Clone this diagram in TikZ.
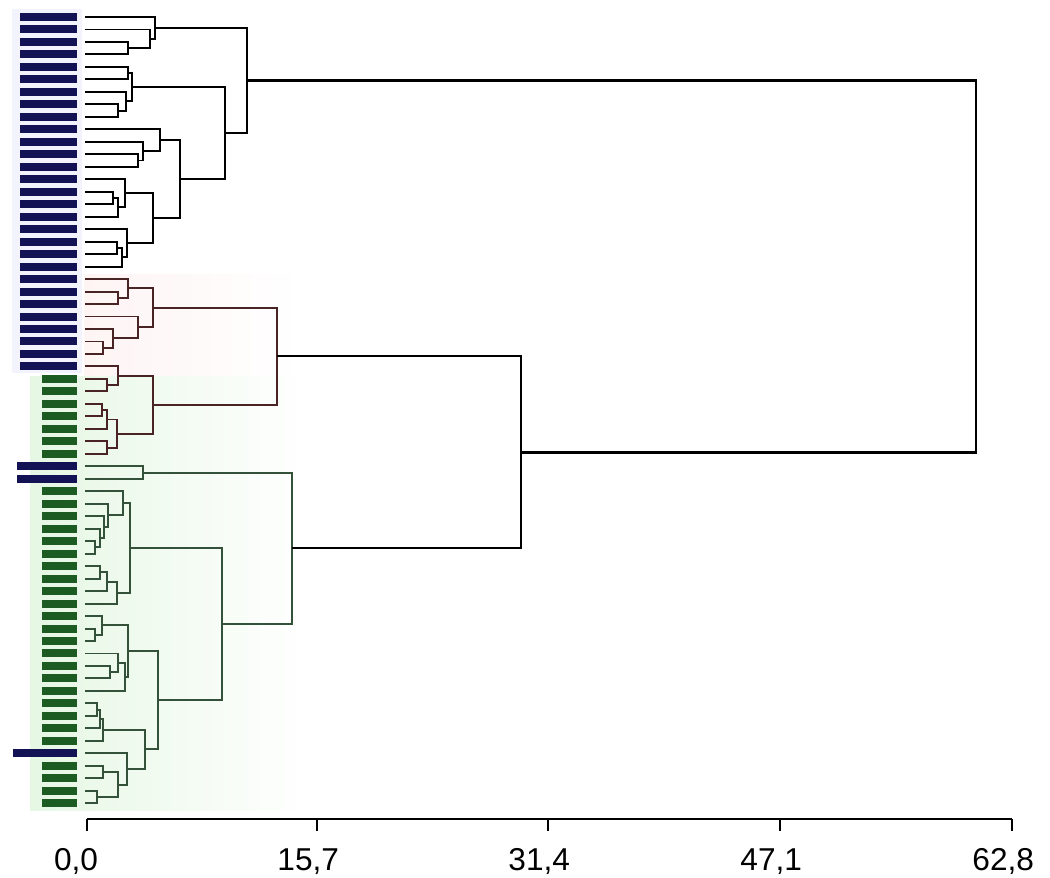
\documentclass[tikz,border=0pt]{standalone}
\usepackage{fontspec}
\setmainfont{Liberation Sans}
\definecolor{barblue}{RGB}{18,18,85}
\definecolor{bargreen}{RGB}{28,92,34}
\definecolor{linered}{RGB}{74,36,36}
\definecolor{linegreen}{RGB}{52,82,58}
\definecolor{tintblue}{RGB}{243,243,253}
\definecolor{tintred}{RGB}{254,244,244}
\definecolor{tintgreen}{RGB}{230,247,228}
% one merge of the tree: name, height, two children
\newcommand\clusterjoin[5][tb]{%
  \draw[treeline,#1] (#4) -- (#4 -| #3,0) -- coordinate (#2) (#5 -| #3,0) -- (#5);}
\begin{document}
\begin{tikzpicture}[x=0.02cm, y=-0.02cm,
  treeline/.style={line width=1.1pt},
  tb/.style={draw=black},
  tr/.style={draw=linered},
  tg/.style={draw=linegreen},
  axislabel/.style={font=\fontsize{18}{20}\selectfont, inner sep=0pt, anchor=base}]
\useasboundingbox (0,0) rectangle (1050,877);
% faint group shading
\fill[tintblue] (12,9) rectangle (82,373);
\fill[left color=tintred, right color=white] (84,274) rectangle (300,414);
\fill[left color=tintgreen, right color=white] (30,376) rectangle (310,810);
% leaves
\foreach \i in {1,...,64}
  \coordinate (l\i) at (85,{17+(\i-1)*12.48});
\foreach \i in {1,...,29}
  \fill[barblue] ([shift={(-65,-4)}]l\i) rectangle ([shift={(-8,4)}]l\i);
\foreach \i in {37,38}
  \fill[barblue] ([shift={(-68,-4)}]l\i) rectangle ([shift={(-8,4)}]l\i);
\fill[barblue] ([shift={(-72,-4)}]l60) rectangle ([shift={(-8,4)}]l60);
\foreach \i in {30,31,...,36,39,40,...,59,61,62,63,64}
  \fill[bargreen] ([shift={(-43,-4)}]l\i) rectangle ([shift={(-8,4)}]l\i);

% blue group
\clusterjoin{b34}{128}{l3}{l4}
\clusterjoin{b234}{150}{l2}{b34}
\clusterjoin{b1to4}{155}{l1}{b234}
\clusterjoin{b56}{128}{l5}{l6}
\clusterjoin{b89}{118}{l8}{l9}
\clusterjoin{b789}{126}{l7}{b89}
\clusterjoin{b5to9}{132}{b56}{b789}
\clusterjoin{b1213}{138}{l12}{l13}
\clusterjoin{b11to13}{143}{l11}{b1213}
\clusterjoin{b10to13}{160}{l10}{b11to13}
\clusterjoin{b1516}{113}{l15}{l16}
\clusterjoin{b15to17}{118}{b1516}{l17}
\clusterjoin{b14to17}{125}{l14}{b15to17}
\clusterjoin{b1920}{117}{l19}{l20}
\clusterjoin{b19to21}{122}{b1920}{l21}
\clusterjoin{b18to21}{127}{l18}{b19to21}
\clusterjoin{b14to21}{153}{b14to17}{b18to21}
\clusterjoin{b10to21}{180}{b10to13}{b14to21}
\clusterjoin{b5to21}{225}{b5to9}{b10to21}
\clusterjoin{cblue}{247}{b1to4}{b5to21}

% red group
\clusterjoin[tr]{r2324}{118}{l23}{l24}
\clusterjoin[tr]{r22to24}{128}{l22}{r2324}
\clusterjoin[tr]{r2728}{103}{l27}{l28}
\clusterjoin[tr]{r26to28}{113}{l26}{r2728}
\clusterjoin[tr]{r25to28}{138}{l25}{r26to28}
\clusterjoin[tr]{r22to28}{153}{r22to24}{r25to28}
\clusterjoin[tr]{r3031}{107}{l30}{l31}
\clusterjoin[tr]{r29to31}{118}{l29}{r3031}
\clusterjoin[tr]{r3233}{102}{l32}{l33}
\clusterjoin[tr]{r32to34}{107}{r3233}{l34}
\clusterjoin[tr]{r3536}{107}{l35}{l36}
\clusterjoin[tr]{r32to36}{117}{r32to34}{r3536}
\clusterjoin[tr]{r29to36}{153}{r29to31}{r32to36}
\clusterjoin[tr]{cred}{277}{r22to28}{r29to36}

% green group
\clusterjoin[tg]{g3738}{143}{l37}{l38}
\clusterjoin[tg]{g4344}{95}{l43}{l44}
\clusterjoin[tg]{g42to44}{100}{l42}{g4344}
\clusterjoin[tg]{g41to44}{104}{l41}{g42to44}
\clusterjoin[tg]{g40to44}{108}{l40}{g41to44}
\clusterjoin[tg]{g39to44}{123}{l39}{g40to44}
\clusterjoin[tg]{g4546}{100}{l45}{l46}
\clusterjoin[tg]{g45to47}{107}{g4546}{l47}
\clusterjoin[tg]{g45to48}{117}{g45to47}{l48}
\clusterjoin[tg]{g39to48}{130}{g39to44}{g45to48}
\clusterjoin[tg]{g5051}{95}{l50}{l51}
\clusterjoin[tg]{g49to51}{102}{l49}{g5051}
\clusterjoin[tg]{g5354}{110}{l53}{l54}
\clusterjoin[tg]{g52to54}{118}{l52}{g5354}
\clusterjoin[tg]{g52to55}{125}{g52to54}{l55}
\clusterjoin[tg]{g49to55}{128}{g49to51}{g52to55}
\clusterjoin[tg]{g5657}{97}{l56}{l57}
\clusterjoin[tg]{g56to58}{100}{g5657}{l58}
\clusterjoin[tg]{g56to59}{103}{g56to58}{l59}
\clusterjoin[tg]{g6162}{103}{l61}{l62}
\clusterjoin[tg]{g6364}{97}{l63}{l64}
\clusterjoin[tg]{g61to64}{118}{g6162}{g6364}
\clusterjoin[tg]{g60to64}{127}{l60}{g61to64}
\clusterjoin[tg]{g56to64}{145}{g56to59}{g60to64}
\clusterjoin[tg]{g49to64}{158}{g49to55}{g56to64}
\clusterjoin[tg]{g39to64}{222}{g39to48}{g49to64}
\clusterjoin[tg]{cgreen}{292}{g3738}{g39to64}

% top of the tree
\clusterjoin[tb,line width=1.3pt]{credgreen}{521}{cred}{cgreen}
\clusterjoin[tb,line width=1.6pt]{croot}{976}{cblue}{credgreen}

% axis
\coordinate (a0) at (87,819);
\coordinate (a4) at (1012,819);
\draw[line width=1.5pt] (a0) -- (a4);
\foreach \x/\cx/\ip/\fp [count=\k] in {87/76/0/0, 317/317/15/7, 548/548/31/4, 780/780/47/1, 1012/1012/62/8}{
  \coordinate (tk\k) at (\x,819);
  \draw[line width=1.3pt] (tk\k) -- ++(0,12);
  \node[axislabel] (lab\k) at (\cx,870) {\llap{\ip},\rlap{\fp}};
}
\end{tikzpicture}
\end{document}
